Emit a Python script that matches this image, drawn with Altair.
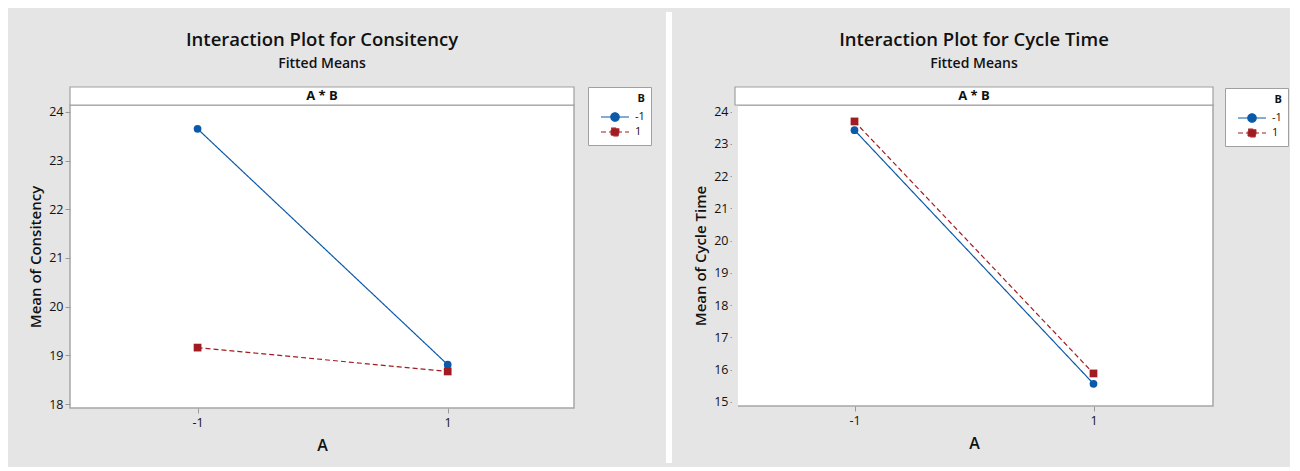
import altair as alt
import pandas as pd

# ---- data ----
A_LEVELS = [-1, 1]
B_LEVELS = ["-1", "1"]
CONS_B_NEG = [23.65, 18.81]
CONS_B_POS = [19.16, 18.67]
CT_B_NEG = [23.43, 15.56]
CT_B_POS = [23.70, 15.88]
CONS_TICKS = [18, 19, 20, 21, 22, 23, 24]
CT_TICKS = [15, 16, 17, 18, 19, 20, 21, 22, 23, 24]
X_TICKS = [-1, 1]

BLUE = "#0b5aa8"
RED = "#a11c20"
BG = "#e5e5e5"
FONT = "Open Sans"
TXT = "#111111"

CIRC_PATH = "M-2,0L2,0M0.6,0A0.6,0.6,0,1,1,-0.6,0A0.6,0.6,0,1,1,0.6,0Z"
SQ_PATH = "M-2,0L2,0M-0.55,-0.55L0.55,-0.55L0.55,0.55L-0.55,0.55Z"


def make_df(neg, pos):
    rows = []
    for a, v in zip(A_LEVELS, neg):
        rows.append({"A": a, "B": B_LEVELS[0], "Mean": v})
    for a, v in zip(A_LEVELS, pos):
        rows.append({"A": a, "B": B_LEVELS[1], "Mean": v})
    return pd.DataFrame(rows)


def panel(df, title, ytitle, ydomain, yticks, xdomain, w, h, lx, ly, gap_x, gap_color):
    xenc = alt.X("A:Q", scale=alt.Scale(domain=xdomain, nice=False, zero=False),
                 axis=alt.Axis(values=X_TICKS, title="A", grid=False, domain=False,
                               labelExpr="'' + datum.value",
                               tickColor="#9a9a9a", tickSize=5, labelPadding=3,
                               labelFont=FONT, labelFontSize=12.5, labelColor=TXT,
                               titleFont=FONT, titleFontSize=16, titleFontWeight=600,
                               titleColor=TXT, titlePadding=9))
    yenc = alt.Y("Mean:Q", scale=alt.Scale(domain=ydomain, nice=False, zero=False),
                 axis=alt.Axis(values=yticks, title=ytitle, grid=False, domain=False,
                               tickColor="#9a9a9a", tickSize=5, labelPadding=2,
                               labelFont=FONT, labelFontSize=12.5, labelColor=TXT,
                               titleFont=FONT, titleFontSize=15, titleFontWeight=600,
                               titleColor=TXT, titlePadding=5))

    def leg():
        return alt.Legend(
            title="B", orient="none", legendX=lx, legendY=ly,
            titleAnchor="end", titleFont=FONT, titleFontSize=11, titleFontWeight="bold",
            titleColor=TXT, labelFont=FONT, labelFontSize=11, labelColor=TXT,
            fillColor="white", strokeColor="#a0a0a0", padding=6,
            symbolSize=196, symbolOffset=13, labelOffset=12, rowPadding=0,
            symbolStrokeWidth=1.2, symbolOpacity=1,
        )

    color_scale = alt.Scale(domain=B_LEVELS, range=[BLUE, RED])
    dash_scale = alt.Scale(domain=B_LEVELS, range=[[1, 0], [5, 3]])
    base = alt.Chart(df)
    # legend-only layer (no rows drawn); comes first so its legend settings win
    leg_layer = base.transform_filter("false").mark_point(filled=False, opacity=1).encode(
        x=xenc, y=yenc,
        color=alt.Color("B:N", scale=color_scale, legend=leg()),
        fill=alt.Fill("B:N", scale=alt.Scale(domain=B_LEVELS, range=[BLUE, RED]), legend=leg()),
        shape=alt.Shape("B:N", scale=alt.Scale(domain=B_LEVELS, range=[CIRC_PATH, SQ_PATH]),
                        legend=leg()),
        strokeDash=alt.StrokeDash("B:N", scale=dash_scale, legend=leg()),
    )
    line = base.mark_line(strokeWidth=1.2).encode(
        x=xenc, y=yenc,
        color=alt.Color("B:N", scale=color_scale, legend=leg()),
        strokeDash=alt.StrokeDash("B:N", scale=dash_scale, legend=leg()),
    )
    pts_c = base.transform_filter(alt.datum.B == B_LEVELS[0]).mark_point(
        filled=True, size=60, opacity=1, shape="circle").encode(
        x=xenc, y=yenc, color=alt.Color("B:N", scale=color_scale, legend=leg()))
    pts_s = base.transform_filter(alt.datum.B == B_LEVELS[1]).mark_point(
        filled=True, size=60, opacity=1, shape="square").encode(
        x=xenc, y=yenc, color=alt.Color("B:N", scale=color_scale, legend=leg()))
    strip_df = pd.DataFrame({"label": ["A * B"]})
    strip = alt.Chart(strip_df).mark_rect(fill="white", stroke="#a0a0a0", strokeWidth=1.2).encode(
        x=alt.value(0), x2=alt.value(w), y=alt.value(-18), y2=alt.value(0))
    strip_txt = alt.Chart(strip_df).mark_text(font=FONT, fontSize=13, fontWeight="bold",
                                              color=TXT, baseline="middle").encode(
        text="label:N", x=alt.value(w / 2), y=alt.value(-9))
    gap = alt.Chart(strip_df).mark_rule(color=gap_color, strokeWidth=6).encode(
        x=alt.value(gap_x), y=alt.value(-93), y2=alt.value(h + 55))
    return alt.layer(gap, strip, strip_txt, leg_layer, line, pts_c, pts_s).properties(
        width=w, height=h,
        title=alt.TitleParams(text=title, subtitle="Fitted Means", font=FONT, fontSize=18.5,
                              fontWeight=600, color=TXT, subtitleFont=FONT,
                              subtitleFontSize=14, subtitleFontWeight=600,
                              subtitleColor=TXT, anchor="middle", frame="group",
                              offset=-62, subtitlePadding=8),
    )


left = panel(make_df(CONS_B_NEG, CONS_B_POS), "Interaction Plot for Consitency",
             "Mean of Consitency", [17.92, 24.14], CONS_TICKS, [-2.02, 2.01],
             504, 303, 518, -18, 599, "white")
right = panel(make_df(CT_B_NEG, CT_B_POS), "Interaction Plot for Cycle Time",
              "Mean of Cycle Time", [14.87, 24.21], CT_TICKS, [-2.0, 2.0],
              478, 301, 490, -17, 0, BG)

chart = alt.hconcat(left, right, spacing=19).resolve_scale(
    color="independent", fill="independent", shape="independent", strokeDash="independent"
).resolve_legend(
    color="independent", fill="independent", shape="independent", strokeDash="independent"
).properties(
    background=BG, padding={"left": 19, "top": 0, "right": 0, "bottom": 0}
).configure_view(stroke="#a6a6a6", strokeWidth=1.5, fill="white")

chart.save("out.html", embed_options={"renderer": "svg", "actions": False})
